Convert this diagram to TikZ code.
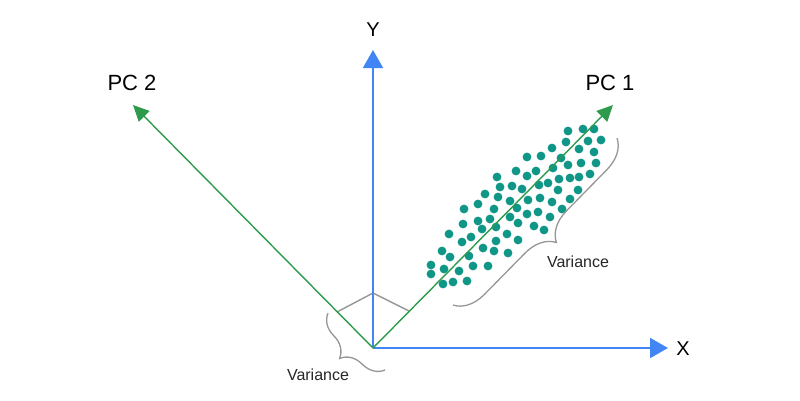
\documentclass[tikz,border=0pt]{standalone}
\usepackage{fontspec}
\setmainfont{Liberation Sans}
\usetikzlibrary{arrows.meta,decorations.pathreplacing}
\definecolor{axisblue}{RGB}{66,133,244}
\definecolor{pcgreen}{RGB}{45,155,75}
\definecolor{dotteal}{RGB}{15,150,135}
\definecolor{bracegray}{RGB}{150,150,150}
\begin{document}
\begin{tikzpicture}[x=1pt,y=-1pt,
  axis/.style={draw=axisblue,line width=1.8pt,-{Triangle[length=18pt,width=20pt]}},
  pcaxis/.style={draw=pcgreen,line width=1.4pt,-{Triangle[length=16pt,width=15pt]}},
  proj/.style={draw=bracegray,line width=1.4pt},
  brc/.style={draw=bracegray,line width=1.3pt,decorate},
  pclabel/.style={font=\fontsize{22}{22}\selectfont,inner sep=0pt},
  axlabel/.style={font=\fontsize{20}{20}\selectfont,inner sep=0pt},
  varlabel/.style={font=\fontsize{16}{16}\selectfont,text=black!85,inner sep=0pt},
  dot/.style={fill=dotteal,draw=none}]
\useasboundingbox (0,0) rectangle (800,400);
% points
\coordinate (O) at (373,348);
\coordinate (Xtip) at (668,348);
\coordinate (Ytip) at (373,50);
\coordinate (P1tip) at (613,105);
\coordinate (P2tip) at (133,105);
\coordinate (Yp) at (373,293);
\coordinate (F1) at (409,311);
\coordinate (F2) at (337,312);
\coordinate (B1a) at (617,138);
\coordinate (B1b) at (453,305);
\coordinate (B2a) at (385,370);
\coordinate (B2b) at (328,313);
% projection lines
\draw[proj] (F2) -- (Yp) -- (F1);
% dots
\foreach \px/\py in {568/131,583/129,594/129,566/142,588/141,601/140,552/148,579/149,594/152,
  527/157,541/156,561/158,581/163,596/163,516/171,536/171,553/168,568/165,527/176,559/179,
  570/178,579/177,590/174,512/186,522/189,539/185,548/183,558/190,578/190,528/200,540/198,
  552/202,570/199,510/201,497/177,500/187,485/194,498/197,478/204,464/209,494/209,510/217,
  463/224,478/221,490/219,518/223,482/229,496/227,449/234,471/237,462/242,507/234,496/241,
  518/240,483/248,494/251,442/251,469/256,508/253,450/257,431/265,473/266,488/266,444/269,
  459/271,431/274,443/284,453/282,467/281,517/208,527/214,538/212,550/217,562/209,534/226,544/230}
  \fill[dot] (\px,\py) circle (4.4);
% axes
\draw[axis] (O) -- (Xtip);
\draw[axis] (O) -- (Ytip);
\draw[pcaxis] (O) -- (P1tip);
\draw[pcaxis] (O) -- (P2tip);
% braces
\draw[brc,decoration={brace,amplitude=30pt}] (B1a) -- (B1b);
\draw[brc,decoration={brace,amplitude=24pt}] (B2a) -- (B2b);
% labels
\node[axlabel] (Xl) at (683,349) {X};
\node[axlabel] (Yl) at (373,30) {Y};
\node[pclabel] (P1l) at (610,83) {PC 1};
\node[pclabel] (P2l) at (132,83) {PC 2};
\node[varlabel] (V1) at (578,262) {Variance};
\node[varlabel] (V2) at (318,375) {Variance};
\end{tikzpicture}
\end{document}
